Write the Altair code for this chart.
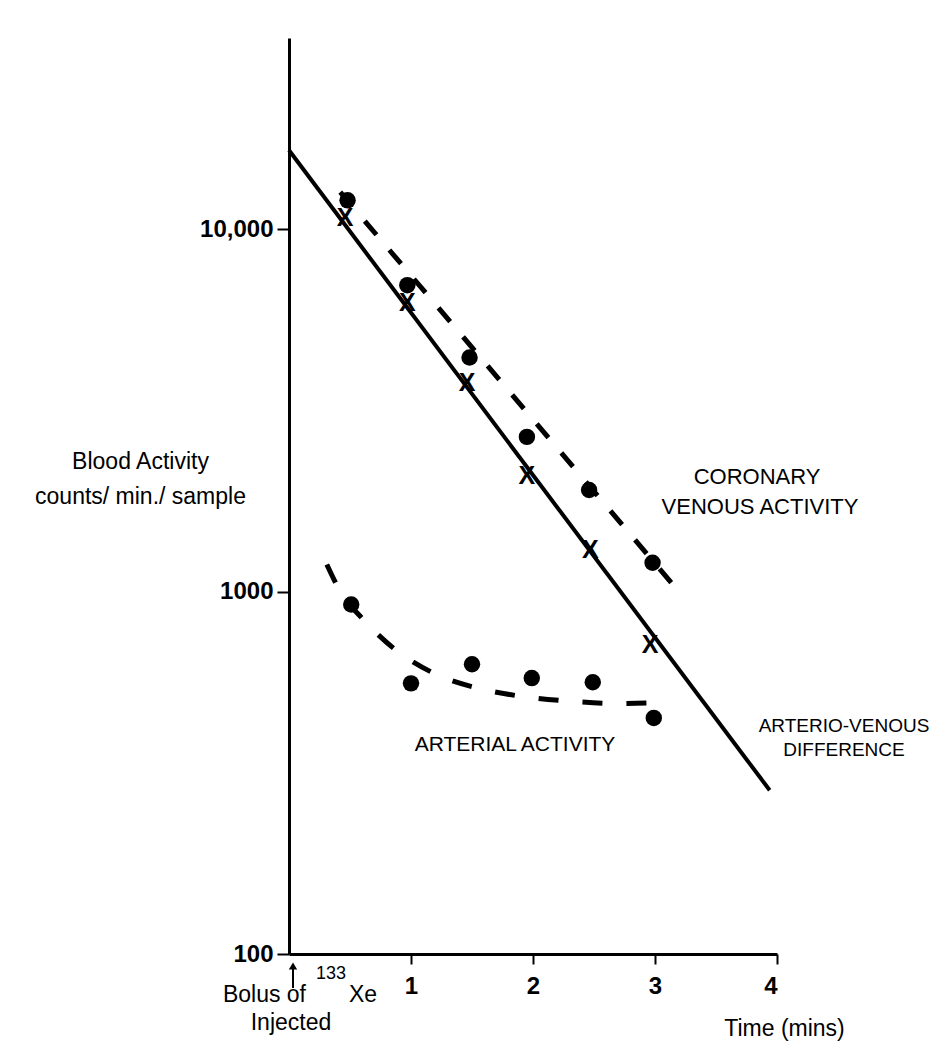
import altair as alt
import pandas as pd

# Arterio-venous difference (X marks)
av_t = [0.46, 0.97, 1.46, 1.95, 2.47, 2.96]
av_v = [10700, 6240, 3770, 2085, 1300, 714]
# Coronary venous activity (dots)
cor_t = [0.48, 0.97, 1.48, 1.95, 2.46, 2.98]
cor_v = [12000, 7000, 4420, 2670, 1905, 1200]
# Arterial activity (dots)
art_t = [0.51, 1.00, 1.50, 1.99, 2.49, 2.99]
art_v = [921, 558, 630, 577, 562, 448]

# fitted lines
av_fit_t = [0.0, 3.94]
av_fit_v = [16500, 283]
cor_fit_t = [0.42, 3.16]
cor_fit_v = [12650, 1032]
art_fit_t = [0.31, 0.43, 0.60, 0.87, 1.21, 1.59, 1.96, 2.32, 2.70, 3.11]
art_fit_v = [1187, 987, 843, 692, 590, 537, 511, 498, 491, 495]

x_ticks = [1, 2, 3, 4]
y_ticks = [100, 1000, 10000]

FONT = "Liberation Sans"

xs = alt.Scale(domain=[0, 4], nice=False, zero=False)
ys = alt.Scale(type="log", domain=[100, 33650], nice=False)

x_axis = alt.Axis(values=x_ticks, grid=False, domainColor="black", domainWidth=3,
                  tickColor="black", tickWidth=2, tickSize=10, labelFontSize=24,
                  labelFontWeight="bold", labelFont=FONT, labelColor="black", labelPadding=10,
                  title="Time (mins)", titleFont=FONT, titleFontSize=23, titleFontWeight="normal",
                  titleColor="black", titleX=495, titleY=81, titleBaseline="alphabetic",
                  titleAlign="center", titleAnchor="start")
y_axis = alt.Axis(values=y_ticks, grid=False, domainColor="black", domainWidth=3,
                  tickColor="black", tickWidth=2, tickSize=12, labelFontSize=24,
                  labelFontWeight="bold", labelFont=FONT, labelColor="black", labelPadding=4,
                  labelExpr="datum.value >= 10000 ? '10,000' : '' + datum.value",
                  title=["Blood  Activity", "counts/ min./ sample"], titleFont=FONT,
                  titleFontSize=23, titleFontWeight="normal", titleColor="black", titleAngle=0,
                  titleAlign="center", titleX=-149, titleY=430, titleBaseline="alphabetic",
                  titleLineHeight=35, titleAnchor="start")

av_fit_df = pd.DataFrame({"t": av_fit_t, "v": av_fit_v})
cor_fit_df = pd.DataFrame({"t": cor_fit_t, "v": cor_fit_v})
art_fit_df = pd.DataFrame({"t": art_fit_t, "v": art_fit_v})
av_df = pd.DataFrame({"t": av_t, "v": av_v, "m": ["X"] * len(av_t)})
cor_df = pd.DataFrame({"t": cor_t, "v": cor_v})
art_df = pd.DataFrame({"t": art_t, "v": art_v})

base_line = alt.Chart(av_fit_df).mark_line(color="black", strokeWidth=4)
cor_line = alt.Chart(cor_fit_df).mark_line(color="black", strokeWidth=5, strokeDash=[18, 20])
art_line = alt.Chart(art_fit_df).mark_line(color="black", strokeWidth=5, strokeDash=[20, 24],
                                            interpolate="monotone")
av_pts = alt.Chart(av_df).mark_text(font=FONT, fontSize=25, fontWeight="bold", color="black",
                                     baseline="middle").encode(text="m:N")
cor_pts = alt.Chart(cor_df).mark_point(shape="circle", filled=True, color="black", size=270,
                                        opacity=1)
art_pts = alt.Chart(art_df).mark_point(shape="circle", filled=True, color="black", size=270,
                                        opacity=1)

def label(txt, px, py, size=21, align="center", baseline="middle"):
    return alt.Chart(pd.DataFrame({"s": [txt]})).mark_text(
        font=FONT, fontSize=size, color="black", align=align, baseline=baseline
    ).encode(x=alt.value(px), y=alt.value(py), text="s:N")

labels = [
    label("CORONARY", 468, 439, size=22),
    label("VENOUS  ACTIVITY", 471, 469, size=22),
    label("ARTERIAL  ACTIVITY", 226, 707, size=21),
    label("ARTERIO-VENOUS", 555, 688, size=19),
    label("DIFFERENCE", 555, 712, size=19),
    label("Bolus of", 17, 964, size=23, align="right", baseline="alphabetic"),
    label("133", 27, 941, size=18, align="left", baseline="alphabetic"),
    label("Xe", 60, 964, size=23, align="left", baseline="alphabetic"),
    label("Injected", 2, 992, size=23, align="center", baseline="alphabetic"),
]

arrow_rule = alt.Chart(pd.DataFrame({"a": [0]})).mark_rule(color="black", strokeWidth=2).encode(
    x=alt.value(4), y=alt.value(930), y2=alt.value(950))
arrow_head = alt.Chart(pd.DataFrame({"a": [0]})).mark_point(
    shape="triangle-up", filled=True, color="black", size=70, opacity=1).encode(
    x=alt.value(4), y=alt.value(928))

chart = alt.layer(base_line, cor_line, art_line, av_pts, cor_pts, art_pts,
                  *labels, arrow_rule, arrow_head).encode(
    x=alt.X("t:Q", scale=xs, axis=x_axis),
    y=alt.Y("v:Q", scale=ys, axis=y_axis),
).properties(
    width=488, height=916,
    padding={"left": 281, "top": 30, "right": 160, "bottom": 90},
    autosize=alt.AutoSizeParams(type="none"),
    background="white",
).configure_view(stroke=None)

chart.save("out.html", embed_options={"renderer": "svg", "actions": False})
